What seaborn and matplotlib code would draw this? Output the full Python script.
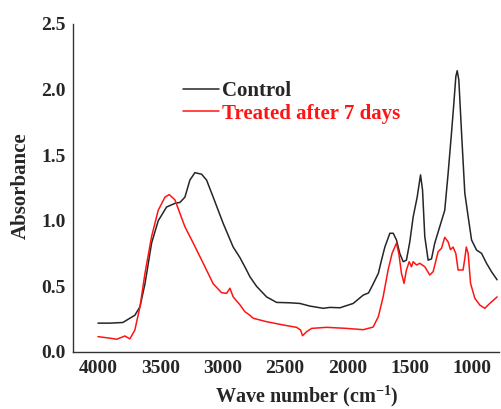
import numpy as np
import pandas as pd
import matplotlib
matplotlib.use("Agg")
import matplotlib.pyplot as plt
import seaborn as sns

# Control spectrum (wave number in cm-1, absorbance)
control_wn = [4000, 3900, 3800, 3757, 3704, 3663, 3623, 3570, 3517, 3450,
              3383, 3343, 3303, 3263, 3223, 3169, 3129, 3076, 2996, 2916,
              2862, 2809, 2782, 2728, 2648, 2568, 2461, 2381, 2301, 2194,
              2140, 2060, 1954, 1873, 1831, 1793, 1752, 1727, 1700, 1660,
              1633, 1607, 1580, 1553, 1527, 1500, 1473, 1441, 1414, 1398,
              1380, 1353, 1326, 1300, 1260, 1220, 1193, 1166, 1147, 1131,
              1120, 1107, 1085, 1059, 1032, 1005, 965, 925, 885, 845, 800]
control_abs = [0.22, 0.22, 0.225, 0.25, 0.28, 0.345, 0.52, 0.83, 1.00, 1.105,
               1.133, 1.14, 1.18, 1.31, 1.367, 1.355, 1.31, 1.18, 0.98, 0.80,
               0.72, 0.625, 0.574, 0.50, 0.42, 0.378, 0.375, 0.37, 0.35, 0.333,
               0.34, 0.337, 0.37, 0.434, 0.45, 0.52, 0.60, 0.70, 0.80, 0.905,
               0.905, 0.854, 0.75, 0.688, 0.70, 0.84, 1.03, 1.18, 1.35, 1.235,
               0.88, 0.70, 0.71, 0.83, 0.955, 1.08, 1.36, 1.667, 1.895, 2.10,
               2.144, 2.073, 1.667, 1.21, 1.03, 0.854, 0.777, 0.752, 0.676, 0.612, 0.55]

# Treated after 7 days
treated_wn = [4000, 3900, 3850, 3784, 3744, 3704, 3663, 3623, 3570, 3517,
              3463, 3429, 3383, 3343, 3303, 3236, 3156, 3076, 3009, 2969,
              2942, 2916, 2862, 2822, 2782, 2755, 2648, 2515, 2408, 2376,
              2360, 2327, 2287, 2167, 2007, 1873, 1794, 1752, 1714, 1674,
              1642, 1607, 1588, 1567, 1546, 1527, 1505, 1487, 1473, 1446,
              1420, 1380, 1340, 1313, 1273, 1246, 1220, 1193, 1174, 1153,
              1131, 1113, 1073, 1059, 1047, 1032, 1013, 979, 939, 899, 859, 800]
treated_abs = [0.117, 0.105, 0.097, 0.122, 0.10, 0.168, 0.345, 0.60, 0.88, 1.08,
               1.18, 1.20, 1.16, 1.057, 0.955, 0.83, 0.676, 0.52, 0.452, 0.447,
               0.486, 0.42, 0.36, 0.307, 0.28, 0.257, 0.231, 0.206, 0.188, 0.168,
               0.124, 0.155, 0.18, 0.188, 0.18, 0.17, 0.19, 0.27, 0.42, 0.625,
               0.752, 0.83, 0.75, 0.60, 0.523, 0.625, 0.688, 0.65, 0.688, 0.663,
               0.676, 0.65, 0.587, 0.612, 0.765, 0.79, 0.874, 0.84, 0.78, 0.80,
               0.75, 0.625, 0.625, 0.713, 0.80, 0.75, 0.523, 0.41, 0.358, 0.333, 0.37, 0.42]

x_ticks = [4000, 3500, 3000, 2500, 2000, 1500, 1000]
y_ticks = [0.0, 0.5, 1.0, 1.5, 2.0, 2.5]

sns.set_style("white")
plt.rcParams['font.family'] = ['Liberation Serif', 'DejaVu Serif']
plt.rcParams['font.weight'] = 'bold'
plt.rcParams['mathtext.fontset'] = 'custom'
plt.rcParams['mathtext.rm'] = 'Liberation Serif:bold'
plt.rcParams['mathtext.it'] = 'Liberation Serif:bold'
plt.rcParams['mathtext.bf'] = 'Liberation Serif:bold'

fig = plt.figure(figsize=(5.01, 4.09), dpi=100)
ax = fig.add_axes([73 / 501, 1 - 352 / 409, 426 / 501, 328 / 409])

sns.lineplot(x=control_wn, y=control_abs, ax=ax, color='#262626', lw=1.1,
             label='Control')
sns.lineplot(x=treated_wn, y=treated_abs, ax=ax, color='#ff1414', lw=1.1,
             label='Treated after 7 days')

ax.set_xlim(4200, 785)
ax.set_ylim(0, 2.5)
ax.set_xticks(x_ticks)
ax.set_yticks(y_ticks)
ax.set_yticklabels([f'{v:.1f}' for v in y_ticks])

for side in ['top', 'right']:
    ax.spines[side].set_visible(False)
for side in ['left', 'bottom']:
    ax.spines[side].set_color('#333333')
    ax.spines[side].set_linewidth(1.0)

ax.tick_params(direction='in', length=4.5, width=1.0, color='#333333',
               labelsize=14, pad=5.5)

ax.set_xlabel('Wave number (cm$^{-1}$)', fontsize=14.5, fontweight='bold')
ax.set_ylabel('Absorbance', fontsize=15, fontweight='bold')
ax.xaxis.set_label_coords(0.549, -0.098)
ax.yaxis.set_label_coords(-0.099, 0.507)

leg = ax.legend(loc='center left', bbox_to_anchor=(0.2575, 0.7607),
                frameon=False, fontsize=15, handlelength=1.75,
                handletextpad=0.15, labelspacing=0.1, borderpad=0,
                borderaxespad=0)
leg.get_texts()[1].set_color('#ff1414')

plt.savefig('out.png', dpi=100)
